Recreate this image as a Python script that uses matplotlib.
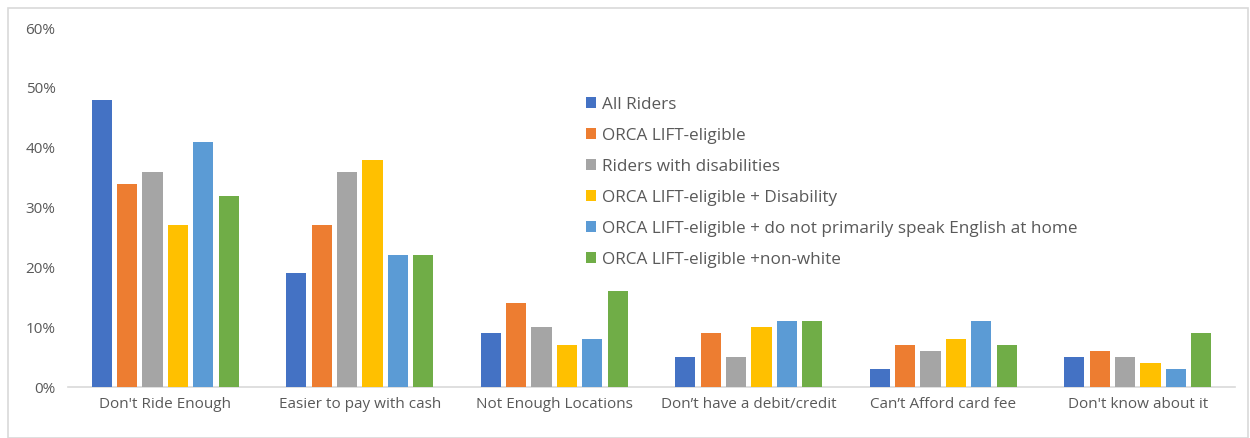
import numpy as np
import matplotlib.pyplot as plt
from matplotlib.patches import Rectangle
from matplotlib.ticker import FuncFormatter

categories = ["Don't Ride Enough", "Easier to pay with cash", "Not Enough Locations",
              "Don\u2019t have a debit/credit", "Can\u2019t Afford card fee", "Don't know about it"]
series_names = ["All Riders", "ORCA LIFT-eligible", "Riders with disabilities",
                "ORCA LIFT-eligible + Disability",
                "ORCA LIFT-eligible + do not primarily speak English at home",
                "ORCA LIFT-eligible +non-white"]
all_riders = [48, 19, 9, 5, 3, 5]
lift_eligible = [34, 27, 14, 9, 7, 6]
disabilities = [36, 36, 10, 5, 6, 5]
lift_disability = [27, 38, 7, 10, 8, 4]
lift_non_english = [41, 22, 8, 11, 11, 3]
lift_non_white = [32, 22, 16, 11, 7, 9]
series_values = [all_riders, lift_eligible, disabilities, lift_disability,
                 lift_non_english, lift_non_white]
colors = ["#4472C4", "#ED7D31", "#A5A5A5", "#FFC000", "#5B9BD5", "#70AD47"]

plt.rcParams['font.family'] = ['Open Sans', 'DejaVu Sans']
text_color = "#595959"

fig = plt.figure(figsize=(12.5, 4.38), dpi=100)
ax = fig.add_axes([0.0544, 0.1164, 0.9336, 0.8196])

x = np.arange(len(categories))
slot = 0.131
width = 0.103
for i, (name, vals, c) in enumerate(zip(series_names, series_values, colors)):
    ax.bar(x + (i - 2.5) * slot, vals, width, color=c, label=name, zorder=3)

ax.set_xlim(-0.5, len(categories) - 0.5)
ax.set_ylim(0, 60)
ax.set_yticks(range(0, 61, 10))
ax.yaxis.set_major_formatter(FuncFormatter(lambda v, p: f"{int(v)}%"))
ax.set_xticks(x)
ax.set_xticklabels(categories)
ax.tick_params(axis='both', length=0, labelsize=11, colors=text_color)
ax.tick_params(axis='x', pad=7)
ax.tick_params(axis='y', pad=9)
for s in ["top", "right", "left"]:
    ax.spines[s].set_visible(False)
ax.spines["bottom"].set_color("#D9D9D9")
ax.spines["bottom"].set_linewidth(1.2)

leg = ax.legend(loc="upper left", bbox_to_anchor=(0.463, 0.795), bbox_transform=fig.transFigure,
                frameon=False, fontsize=12.3, handlelength=0.6, handleheight=0.6,
                handletextpad=0.35, labelspacing=0.88, borderaxespad=0)
for t in leg.get_texts():
    t.set_color(text_color)

fig.patches.append(Rectangle((8 / 1250, 0), 1240 / 1250, 1 - 8 / 438, transform=fig.transFigure,
                             fill=False, edgecolor="#D9D9D9", linewidth=1.2))

fig.savefig("out.png", dpi=100)
